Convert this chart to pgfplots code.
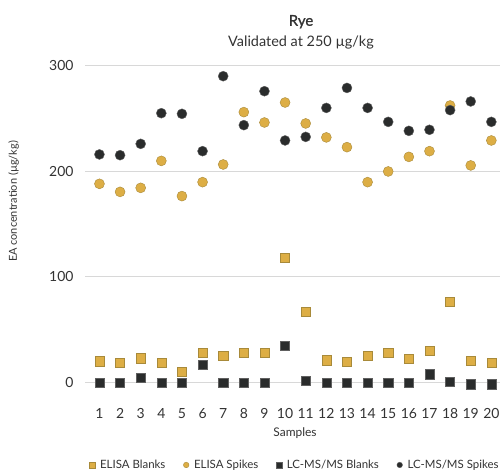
\documentclass[border=0pt]{standalone}
\usepackage{pgfplots}
\pgfplotsset{compat=1.18}
\usepackage{fontspec}
\setmainfont{Lato}
\newfontfamily\titlefont{Lato}[FakeBold=1.2]
\definecolor{gold}{HTML}{DDAE45}
\definecolor{goldedge}{HTML}{A88A3A}
\definecolor{dark}{HTML}{2A2C2C}
\definecolor{darkedge}{HTML}{606060}
\definecolor{txt}{HTML}{333333}
\definecolor{gridc}{HTML}{D8D8D8}
\begin{document}
\begin{tikzpicture}[x=1bp,y=1bp]
\path (0,0) rectangle (504,472);
\begin{axis}[
  at={(85bp,78.9bp)}, anchor=south west,
  scale only axis, width=415bp, height=327.8bp,
  xmin=0.3, xmax=20.42, ymin=-10, ymax=300,
  xtick={1,...,20}, ytick={0,100,200,300},
  /pgf/number format/assume math mode=true,
  axis line style={draw=none},
  major tick length=0pt,
  ymajorgrids, grid style={gridc, line width=0.8pt},
  ticklabel style={font=\fontsize{14}{16}\selectfont, text=txt},
  xticklabel style={yshift=-12bp},
  yticklabel style={xshift=-8bp},
  clip=false,
  legend columns=4,
  legend style={at={(0.506,-0.2193)}, anchor=center, draw=none, fill=none,
    font=\fontsize{11.5}{13}\selectfont, text=txt,
    /tikz/every odd column/.append style={column sep=3bp},
    /tikz/every even column/.append style={column sep=16bp},
    inner sep=0pt},
  mk/.style={only marks, legend image code/.code={\draw[##1,mark size=2.8bp] plot coordinates {(0bp,0bp)};}},
]
\addplot[mk, mark=square*, mark size=4.6bp, mark options={fill=gold, draw=goldedge, line width=0.4pt}] coordinates {
(1,20.2)(2,18.6)(3,23.0)(4,18.9)(5,10.4)(6,28.4)(7,25.6)(8,28.0)(9,28.0)(10,118.0)
(11,66.9)(12,21.1)(13,19.5)(14,25.2)(15,28.0)(16,22.4)(17,30.3)(18,76.7)(19,20.5)(20,18.6)};
\addlegendentry{ELISA Blanks}
\addplot[mk, mark=*, mark size=5bp, mark options={fill=gold, draw=goldedge, line width=0.4pt}] coordinates {
(1,187.9)(2,180.3)(3,184.1)(4,209.6)(5,176.3)(6,189.5)(7,206.2)(8,255.7)(9,245.9)(10,264.8)
(11,245.0)(12,231.8)(13,222.6)(14,189.5)(15,199.6)(16,213.4)(17,218.8)(18,262.0)(19,205.3)(20,228.9)};
\addlegendentry{ELISA Spikes}
\addplot[mk, mark=square*, mark size=4.6bp, mark options={fill=dark, draw=darkedge, line width=0.4pt}] coordinates {
(1,0)(2,0)(3,4.4)(4,0)(5,0)(6,16.7)(7,0)(8,0)(9,0)(10,35.0)
(11,1.9)(12,0)(13,0)(14,0)(15,0)(16,0)(17,7.9)(18,0.9)(19,-1.5)(20,-1.5)};
\addlegendentry{LC-MS/MS Blanks}
\addplot[mk, mark=*, mark size=5bp, mark options={fill=dark, draw=darkedge, line width=0.4pt}] coordinates {
(1,215.7)(2,215.0)(3,225.7)(4,254.7)(5,254.1)(6,218.8)(7,289.7)(8,243.4)(9,275.5)(10,228.9)
(11,232.3)(12,259.7)(13,278.6)(14,259.7)(15,246.5)(16,238.0)(17,239.0)(18,257.6)(19,265.8)(20,246.5)};
\addlegendentry{LC-MS/MS Spikes}
\end{axis}
\node[text=txt, font=\fontsize{15}{16}\selectfont\titlefont] at (301,450.3) {Rye};
\node[text=txt, font=\fontsize{14.5}{16}\selectfont] at (301,429.3) {Validated at 250 µg/kg};
\node[text=txt, font=\fontsize{12}{14}\selectfont] at (295,39.3) {Samples};
\node[text=txt, font=\fontsize{11}{13}\selectfont, rotate=90] at (13.5,270.5) {EA concentration (µg/kg)};
\end{tikzpicture}
\end{document}
